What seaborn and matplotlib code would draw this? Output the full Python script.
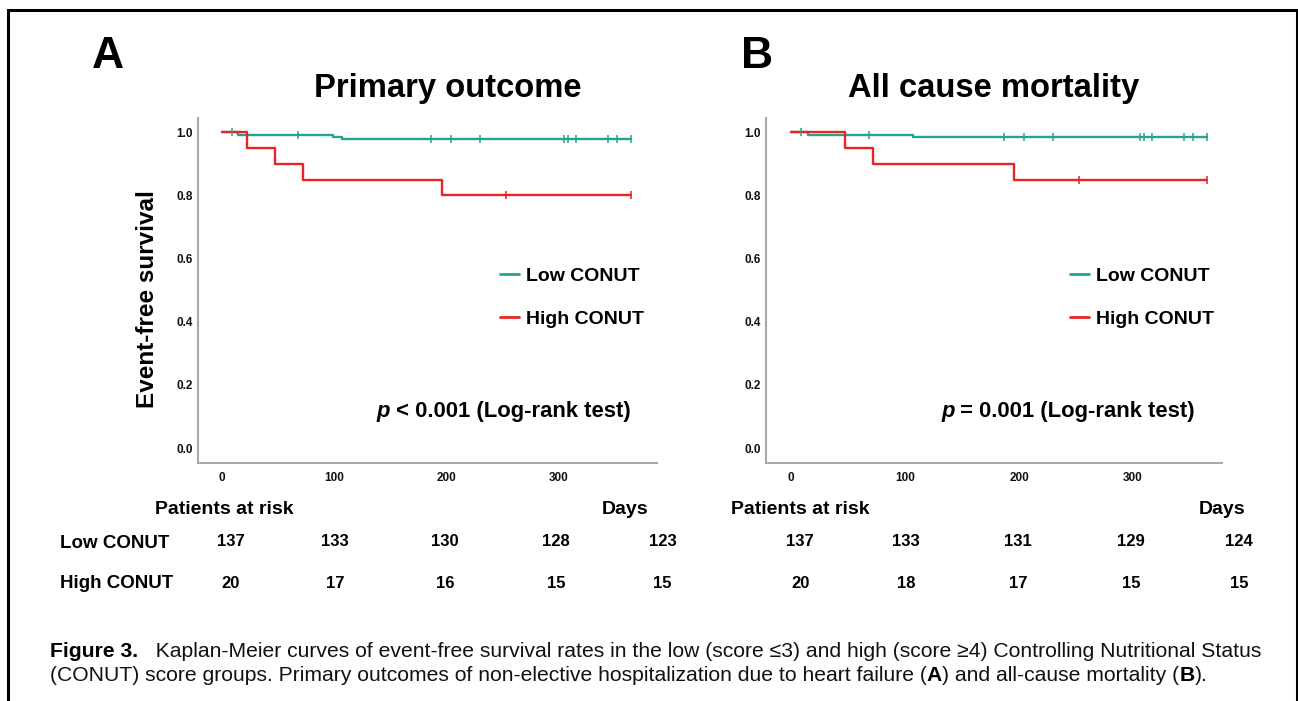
import matplotlib
matplotlib.use("Agg")
import matplotlib.pyplot as plt
import matplotlib.transforms as mtransforms
from matplotlib import font_manager as fm
from matplotlib.lines import Line2D
import pandas as pd
import seaborn as sns

# ---------------- data ----------------
day_ticks = [0, 100, 200, 300]
surv_ticks = [0.0, 0.2, 0.4, 0.6, 0.8, 1.0]
groups = ["Low CONUT", "High CONUT"]

# Panel A: primary outcome
a_low_t = [0, 14, 99, 107, 365]
a_low_s = [1.0, 0.9927, 0.9854, 0.9781, 0.9781]
a_low_cens_t = [9, 68, 186, 204, 230, 305, 309, 316, 344, 352, 365]
a_low_cens_s = [1.0, 0.9927, 0.9781, 0.9781, 0.9781, 0.9781, 0.9781, 0.9781, 0.9781, 0.9781, 0.9781]
a_high_t = [0, 22, 47, 72, 196, 365]
a_high_s = [1.0, 0.95, 0.90, 0.85, 0.80, 0.80]
a_high_cens_t = [253, 365]
a_high_cens_s = [0.80, 0.80]

# Panel B: all cause mortality
b_low_t = [0, 15, 107, 365]
b_low_s = [1.0, 0.9927, 0.9854, 0.9854]
b_low_cens_t = [9, 68, 187, 204, 230, 306, 310, 317, 345, 353, 365]
b_low_cens_s = [1.0, 0.9927, 0.9854, 0.9854, 0.9854, 0.9854, 0.9854, 0.9854, 0.9854, 0.9854, 0.9854]
b_high_t = [0, 47, 72, 196, 365]
b_high_s = [1.0, 0.95, 0.90, 0.85, 0.85]
b_high_cens_t = [253, 365]
b_high_cens_s = [0.85, 0.85]

# Numbers at risk
a_risk_low = [137, 133, 130, 128, 123]
a_risk_high = [20, 17, 16, 15, 15]
b_risk_low = [137, 133, 131, 129, 124]
b_risk_high = [20, 18, 17, 15, 15]

titles = ["Primary outcome", "All cause mortality"]
panel_letters = ["A", "B"]
p_texts = [" < 0.001 (Log-rank test)", " = 0.001 (Log-rank test)"]

# ---------------- style ----------------
sns.set_theme(style="white")
names = {f.name for f in fm.fontManager.ttflist}
BASE = "Liberation Sans" if "Liberation Sans" in names else "DejaVu Sans"
NARROW = "Liberation Sans Narrow" if "Liberation Sans Narrow" in names else BASE
plt.rcParams["font.family"] = [BASE, "DejaVu Sans"]
plt.rcParams["text.color"] = "black"
plt.rcParams["axes.labelcolor"] = "black"
plt.rcParams["xtick.color"] = "black"
plt.rcParams["ytick.color"] = "black"

GREEN = "#22a48e"
RED = "#ee2222"
SPINE = "#a8a8a8"

W, H = 1298, 701
fig = plt.figure(figsize=(W / 100, H / 100), dpi=100)
renderer = fig.canvas.get_renderer()


def fx(x):
    return x / W


def fy(y):
    return 1 - y / H


def place_pieces(x_px, y_px, pieces, scale=1.0):
    x = x_px
    for text, kw in pieces:
        kw = dict(kw)
        kw["fontsize"] = kw.get("fontsize", 12) * scale
        t = fig.text(x / W, fy(y_px), text, ha="left", va="baseline", **kw)
        bb = t.get_window_extent(renderer)
        x = bb.x1
    return x


panels = [
    dict(left=198, right=657, xlim=(-21.4, 388), low=(a_low_t, a_low_s, a_low_cens_t, a_low_cens_s),
         high=(a_high_t, a_high_s, a_high_cens_t, a_high_cens_s), risk=(a_risk_low, a_risk_high),
         leg_x=500, p_x=376, title_x=448, letter_x=108, par_x=155, days_x=648),
    dict(left=766, right=1222, xlim=(-21.9, 378), low=(b_low_t, b_low_s, b_low_cens_t, b_low_cens_s),
         high=(b_high_t, b_high_s, b_high_cens_t, b_high_cens_s), risk=(b_risk_low, b_risk_high),
         leg_x=1070, p_x=941, title_x=994, letter_x=757, par_x=731, days_x=1245),
]

top_px, bot_px = 118, 463
risk_cols = [8, 101, 199, 298, 393]

for i, pnl in enumerate(panels):
    ax = fig.add_axes([fx(pnl["left"]), fy(bot_px), (pnl["right"] - pnl["left"]) / W, (bot_px - top_px) / H])
    for grp, (t, s, ct, cs), col in [(groups[0], pnl["low"], GREEN), (groups[1], pnl["high"], RED)]:
        df = pd.DataFrame({"day": t, "surv": s})
        sns.lineplot(data=df, x="day", y="surv", ax=ax, color=col, linewidth=1.7,
                     drawstyle="steps-post", estimator=None, sort=False, label=grp)
        cdf = pd.DataFrame({"day": ct, "surv": cs})
        sns.scatterplot(data=cdf, x="day", y="surv", ax=ax, color=col, marker="|",
                        s=40, linewidth=1.1, legend=False, zorder=3)
    ax.set_xlim(*pnl["xlim"])
    ax.set_ylim(-0.047, 1.045)
    ax.set_xticks(day_ticks)
    ax.set_xticklabels([str(d) for d in day_ticks])
    ax.set_yticks(surv_ticks)
    ax.set_yticklabels([f"{v:.1f}" for v in surv_ticks])
    ax.tick_params(length=0, labelsize=8.5, pad=3.5)
    ax.tick_params(axis="x", pad=6.5)
    for lab in ax.get_xticklabels() + ax.get_yticklabels():
        lab.set_fontweight("bold")
        lab.set_color("#111111")
    ax.set_xlabel("")
    ax.set_ylabel("")
    for side in ["top", "right"]:
        ax.spines[side].set_visible(False)
    for side in ["left", "bottom"]:
        ax.spines[side].set_color(SPINE)
        ax.spines[side].set_linewidth(1.5)
    ax.patch.set_alpha(0)

    handles = [Line2D([], [], color=GREEN, lw=2), Line2D([], [], color=RED, lw=2)]
    ax.legend(handles, groups, loc="upper left",
              bbox_to_anchor=(fx(pnl["leg_x"]), fy(267)), bbox_transform=fig.transFigure,
              frameon=False, handlelength=1.0, handletextpad=0.35, labelspacing=1.33,
              borderpad=0, borderaxespad=0, prop={"family": BASE, "weight": "bold", "size": 14})

    # panel letter & title
    fig.text(fx(pnl["letter_x"]), fy(56), panel_letters[i], ha="center", va="center",
             fontsize=32, fontweight="bold")
    fig.text(fx(pnl["title_x"]), fy(89), titles[i], ha="center", va="center",
             fontsize=23.6, fontweight="bold")

    # p-value
    place_pieces(pnl["p_x"], 417, [("p", dict(fontsize=15.8, fontweight="bold", fontstyle="italic")),
                                   (p_texts[i], dict(fontsize=15.8, fontweight="bold"))])

    # risk table
    fig.text(fx(pnl["par_x"]), fy(510), "Patients at risk", ha="left", va="center",
             fontsize=14, fontweight="bold")
    fig.text(fx(pnl["days_x"]), fy(510), "Days", ha="right", va="center",
             fontsize=14, fontweight="bold")
    trans = mtransforms.blended_transform_factory(ax.transData, fig.transFigure)
    for row_y, vals in [(541, pnl["risk"][0]), (583, pnl["risk"][1])]:
        for d, v in zip(risk_cols, vals):
            fig.text(d, fy(row_y), str(v), transform=trans, ha="center", va="center",
                     fontsize=12, fontweight="bold")

# y label and risk row labels
fig.text(fx(148), fy(299), "Event-free survival", rotation=90, ha="center", va="center",
         fontsize=17.5, fontweight="bold")
fig.text(fx(60), fy(543), groups[0], ha="left", va="center", fontsize=13.5, fontweight="bold")
fig.text(fx(60), fy(584), groups[1], ha="left", va="center", fontsize=13.5, fontweight="bold")

# outer frame
fig.add_artist(Line2D([fx(8.3), fx(8.3), fx(1297.3), fx(1297.3)], [-0.01, fy(9.7), fy(9.7), -0.01],
                      color="black", lw=2.2, transform=fig.transFigure, solid_joinstyle="miter"))

# caption
cap_reg = dict(family=[NARROW, "DejaVu Sans"], fontsize=12.5, color="#111111")
cap_bold = dict(family=[NARROW, "DejaVu Sans"], fontsize=12.5, fontweight="bold", color="#000000")
cap_bold_reg = dict(family=[BASE, "DejaVu Sans"], fontsize=12.5, fontweight="bold", color="#000000")
line1 = [("Figure 3.", cap_bold),
         ("   Kaplan-Meier curves of event-free survival rates in the low (score \u22643) and high (score \u22654) "
          "Controlling Nutritional Status", cap_reg)]
line2 = [("(CONUT) score groups. Primary outcomes of non-elective hospitalization due to heart failure (", cap_reg),
         ("A", cap_bold_reg), (") and all-cause mortality (", cap_reg), ("B", cap_bold_reg), (").", cap_reg)]

# measure line 1 and scale to its width in the reference
cap_x0, cap_x1 = 50, 1263
tmp_texts = []
x = 0
for text, kw in line1:
    t = fig.text(0, 0.5, text, **kw)
    tmp_texts.append(t)
    x += t.get_window_extent(renderer).width
for t in tmp_texts:
    t.remove()
scale = (cap_x1 - cap_x0) / x
place_pieces(cap_x0, 657, line1, scale=scale)
place_pieces(cap_x0, 681, line2, scale=scale)

fig.savefig("out.png", dpi=100)
